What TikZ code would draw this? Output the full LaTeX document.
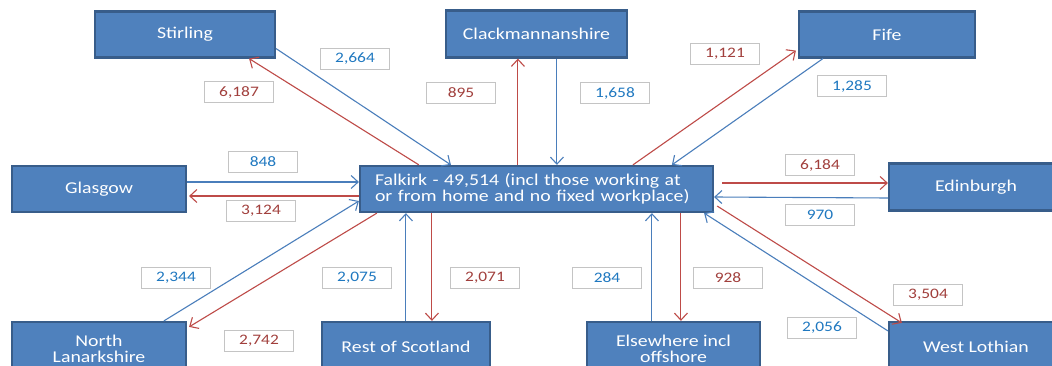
\documentclass[tikz,border=0pt]{standalone}
\usepackage{fontspec}
\setmainfont{Carlito}[FakeStretch=1.2]
\usetikzlibrary{arrows.meta,calc}
\definecolor{nodefill}{HTML}{4F81BD}
\definecolor{nodeborder}{HTML}{385D8A}
\definecolor{lineblue}{HTML}{4A7EBB}
\definecolor{linered}{HTML}{BE4B48}
\definecolor{redtext}{HTML}{A13F3C}
\definecolor{bluetext}{HTML}{1F78C0}
\definecolor{labborder}{HTML}{C4C4C4}
\begin{document}
\begin{tikzpicture}[x=1pt,y=-1pt,
  place/.style={draw=nodeborder,line width=2.2pt,fill=nodefill,text=white,minimum height=46pt,inner sep=0pt,font=\fontsize{16.5}{16}\selectfont,align=center},
  lab/.style={draw=labborder,line width=1.2pt,fill=white,minimum width=69pt,minimum height=21pt,inner sep=0pt,font=\fontsize{14.5}{16}\selectfont},
  rl/.style={lab,text=redtext},
  bl/.style={lab,text=bluetext},
  ra/.style={draw=linered,line width=1.1pt,-{Straight Barb[length=7pt,width=13pt]}},
  ba/.style={draw=lineblue,line width=1.1pt,-{Straight Barb[length=7pt,width=13pt]}}]
\useasboundingbox (0,0) rectangle (1052,366);
\fill[white] (0,0) rectangle (1052,366);
\clip (0,0) rectangle (1052,366);

% places
\node[place,minimum width=180pt] (stir) at (185,34.5) {Stirling};
\node[place,minimum width=181pt,minimum height=47pt] (clk) at (536.5,34) {Clackmannanshire};
\node[place,minimum width=176pt] (fife) at (887,34.5) {Fife};
\node[place,minimum width=174pt] (glas) at (99,189) {Glasgow};
\node[place,minimum width=174pt,minimum height=54pt] (nl) at (99,349) {North\\Lanarkshire};
\node[place,minimum width=168pt,minimum height=50pt] (rest) at (406,347) {Rest of Scotland};
\node[place,minimum width=173pt,minimum height=54pt] (else) at (673.5,349) {Elsewhere incl\\offshore};
\node[place,minimum width=174pt,minimum height=47pt] (edin) at (976,187) {Edinburgh};
\node[place,minimum width=174pt,minimum height=50pt] (wl) at (976,347) {West Lothian};
\node[place,minimum width=353pt,text width=323pt,inner xsep=15pt,align=left,font=\fontsize{16.5}{16.5}\selectfont] (falk) at (536.5,189) {Falkirk - 49,514 (incl those working at\\or from home and no fixed workplace)};

% connectors
\draw[ba] ($(stir.south east)+(0,-10)$) -- ($(falk.north west)+(92,0)$);
\draw[ra] ($(falk.north west)+(60,0)$) -- ($(stir.south east)+(-27,0)$);
\draw[ra] ($(falk.north west)+(159,0)$) -- ($(clk.south west)+(73,0)$);
\draw[ba] ($(clk.south west)+(112,0)$) -- ($(falk.north west)+(198,0)$);
\draw[ra] ($(falk.north west)+(274,0)$) -- ($(fife.south west)+(-2,-8)$);
\draw[ba] ($(fife.south west)+(25,0)$) -- ($(falk.north west)+(313,0)$);
\draw[ba] ($(glas.east)+(0,-7)$) -- ($(falk.west)+(0,-7)$);
\draw[ra] ($(falk.west)+(0,7)$) -- ($(glas.east)+(2,7)$);
\draw[ba] ($(nl.north west)+(153,0)$) -- ($(falk.west)+(0,12)$);
\draw[ra] ($(falk.south west)+(18,0)$) -- ($(nl.north east)+(2,6)$);
\draw[ba] ($(rest.north west)+(85,0)$) -- ($(falk.south west)+(47,0)$);
\draw[ra] ($(falk.south west)+(73,0)$) -- ($(rest.north west)+(111,0)$);
\draw[ba] ($(else.north west)+(66,0)$) -- ($(falk.south west)+(293,0)$);
\draw[ra] ($(falk.south west)+(322,0)$) -- ($(else.north west)+(95,0)$);
\draw[ra] ($(falk.east)+(8,-6)$) -- ($(edin.west)+(0,-4)$);
\draw[ba] ($(edin.west)+(0,11)$) -- ($(falk.east)+(0,8)$);
\draw[ra] ($(falk.east)+(3,17)$) -- ($(wl.north west)+(14,2)$);
\draw[ba] ($(wl.north west)+(0,10)$) -- ($(falk.south east)+(-10,0)$);

% labels
\node[bl] (l1) at (355,59) {2,664};
\node[rl] (l2) at (239,92) {6,187};
\node[rl] (l3) at (461,93) {895};
\node[bl] (l4) at (615,93) {1,658};
\node[rl] (l5) at (725,54) {1,121};
\node[bl] (l6) at (852,86) {1,285};
\node[bl] (l7) at (263,162) {848};
\node[rl] (l8) at (261,211) {3,124};
\node[bl] (l9) at (176,278) {2,344};
\node[bl] (l10) at (357,278) {2,075};
\node[rl] (l11) at (259,341) {2,742};
\node[rl] (l12) at (485,278) {2,071};
\node[bl] (l13) at (607,278) {284};
\node[rl] (l14) at (728,278) {928};
\node[rl] (l15) at (820,165) {6,184};
\node[bl] (l16) at (820,215) {970};
\node[rl] (l17) at (928,295) {3,504};
\node[bl] (l18) at (822,328) {2,056};
\end{tikzpicture}
\end{document}
